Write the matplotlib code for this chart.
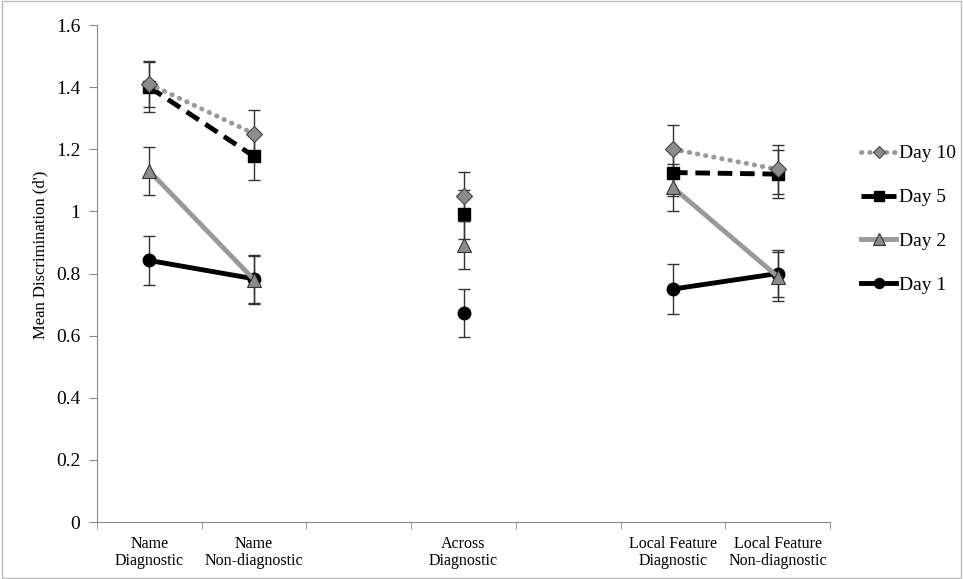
import numpy as np
import matplotlib
matplotlib.use("Agg")
import matplotlib.pyplot as plt
from matplotlib.patches import Rectangle

nan = np.nan
categories = ["Name\nDiagnostic", "Name\nNon-diagnostic", "", "Across\nDiagnostic", "",
              "Local Feature\nDiagnostic", "Local Feature\nNon-diagnostic"]
day10 = [1.41, 1.25, nan, 1.048, nan, 1.20, 1.135]
day10_err = [0.075, 0.078, nan, 0.078, nan, 0.077, 0.078]
day5 = [1.40, 1.177, nan, 0.99, nan, 1.125, 1.12]
day5_err = [0.08, 0.077, nan, 0.078, nan, 0.077, 0.078]
day2 = [1.13, 0.78, nan, 0.893, nan, 1.077, 0.79]
day2_err = [0.078, 0.078, nan, 0.077, nan, 0.077, 0.078]
day1 = [0.842, 0.783, nan, 0.674, nan, 0.75, 0.80]
day1_err = [0.08, 0.078, nan, 0.077, nan, 0.08, 0.077]

plt.rcParams['font.family'] = ['Liberation Serif', 'DejaVu Serif']

fig = plt.figure(figsize=(9.63, 5.79), dpi=100)
ax = fig.add_axes([0.1007, 0.0984, 0.7613, 0.8584])
x = np.arange(len(categories))

series = [
    ("Day 10", day10, day10_err, dict(color="#999999", linestyle=(0, (0.1, 1.6)), linewidth=3.5,
                                       dash_capstyle="round", marker="D", markersize=8,
                                       markerfacecolor="#8c8c8c", markeredgecolor="#444444", markeredgewidth=0.8)),
    ("Day 5", day5, day5_err, dict(color="black", linestyle=(0, (3.0, 1.6)), linewidth=3.5,
                                     marker="s", markersize=9, markerfacecolor="black",
                                     markeredgecolor="black")),
    ("Day 2", day2, day2_err, dict(color="#999999", linestyle="-", linewidth=3.5,
                                     marker="^", markersize=10, markerfacecolor="#8c8c8c",
                                     markeredgecolor="#333333", markeredgewidth=0.8)),
    ("Day 1", day1, day1_err, dict(color="black", linestyle="-", linewidth=3.5,
                                     marker="o", markersize=9, markerfacecolor="black",
                                     markeredgecolor="black")),
]

for name, vals, errs, style in series:
    ax.errorbar(x, vals, yerr=errs, fmt="none", ecolor="#333333", elinewidth=1.0,
                capsize=4.5, capthick=1.0, zorder=2)
for name, vals, errs, style in reversed(series):
    ax.plot(x, vals, label=name, zorder=3, **style)
handles = ax.get_lines()

ax.set_xlim(-0.5, len(categories) - 0.5)
ax.set_ylim(0, 1.6)
ax.set_yticks(np.arange(0, 1.61, 0.2))
ax.set_yticklabels(["0", "0.2", "0.4", "0.6", "0.8", "1", "1.2", "1.4", "1.6"], fontsize=14)
ax.set_xticks(x)
ax.set_xticklabels(categories, fontsize=11.5, linespacing=1.05)
ax.tick_params(axis="x", length=0, pad=10)
ax.set_xticks(np.arange(-0.5, len(categories)), minor=True)
ax.tick_params(axis="x", which="minor", length=5, color="#888888")
ax.tick_params(axis="y", length=6, color="#888888", pad=6)
for s in ["top", "right"]:
    ax.spines[s].set_visible(False)
for s in ["left", "bottom"]:
    ax.spines[s].set_color("#888888")
ax.set_ylabel("Mean Discrimination (d')", fontsize=12)
ax.yaxis.set_label_coords(-0.066, 0.537)

order = ["Day 10", "Day 5", "Day 2", "Day 1"]
hmap = {h.get_label(): h for h in handles}
leg = fig.legend([hmap[n] for n in order], order, loc="upper left",
                 bbox_to_anchor=(0.876, 0.78), frameon=False, fontsize=14,
                 handlelength=1.8, handletextpad=0.15, labelspacing=1.35, markerscale=0.8)

fig.patches.append(Rectangle((0.002, 0.002), 0.996, 0.996, transform=fig.transFigure,
                             fill=False, edgecolor="#bbbbbb", linewidth=1.0))

fig.savefig("out.png", dpi=100)
